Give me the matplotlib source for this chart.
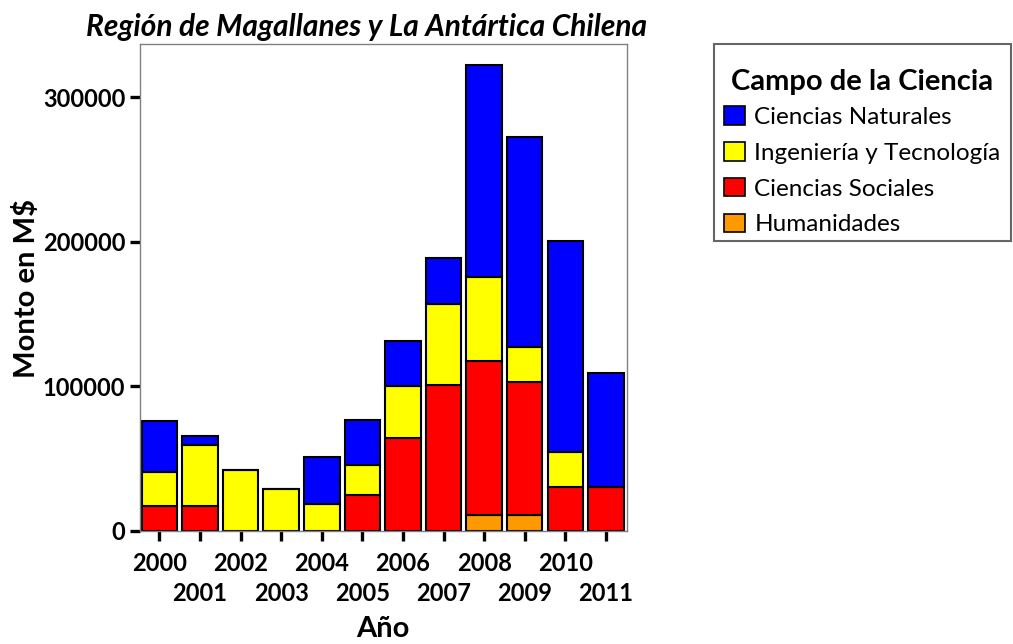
import numpy as np
import matplotlib.pyplot as plt
from matplotlib.patches import Rectangle

plt.rcParams['font.family'] = ['Lato', 'DejaVu Sans']

years = ['2000', '2001', '2002', '2003', '2004', '2005',
         '2006', '2007', '2008', '2009', '2010', '2011']
humanidades = [0, 0, 0, 0, 0, 0, 0, 0, 10600, 10600, 0, 0]
sociales = [17200, 17200, 0, 0, 0, 24800, 64100, 101100, 107100, 92200, 30300, 30300]
ingenieria = [23300, 41900, 41800, 29200, 18600, 20700, 35900, 55900, 57900, 24100, 24400, 0]
naturales = [35400, 6400, 0, 0, 32700, 31300, 31500, 31700, 146900, 145500, 145500, 79100]

series = [('Humanidades', humanidades, '#ff9900'),
          ('Ciencias Sociales', sociales, '#ff0000'),
          ('Ingeniería y Tecnología', ingenieria, '#ffff00'),
          ('Ciencias Naturales', naturales, '#0000ff')]

W, H = 1013, 644
fig = plt.figure(figsize=(W/100, H/100), dpi=100)
ax = fig.add_axes([139.5/W, 1-530.7/H, (627-139.5)/W, (530.7-44.3)/H])

x = np.arange(len(years))
bottom = np.zeros(len(years))
handles = []
for name, vals, col in series:
    vals = np.array(vals, float)
    b = ax.bar(x, vals, 0.875, bottom=bottom, color=col, edgecolor='black',
               linewidth=1.5, label=name)
    handles.append(b)
    bottom += vals

ax.set_xlim(-0.49, 11.52)
ax.set_ylim(0, 336600)
ax.set_yticks([0, 100000, 200000, 300000])
ax.set_yticklabels(['0', '100000', '200000', '300000'], fontweight='bold', fontsize=17)
# años pares arriba, impares en una segunda fila
ax.set_xticks(x[0::2])
ax.set_xticklabels(years[0::2], fontweight='bold', fontsize=17)
ax.set_xticks(x[1::2], minor=True)
ax.set_xticklabels(years[1::2], minor=True, fontweight='bold', fontsize=17)
ax.tick_params(axis='both', which='both', direction='out', length=7.2, width=2.4, color='black')
ax.tick_params(axis='x', which='major', pad=8)
ax.tick_params(axis='x', which='minor', pad=30)
ax.tick_params(axis='y', pad=3)
for s in ax.spines.values():
    s.set_color('#808080')
    s.set_linewidth(1.0)

fig.text(26/W, 1-288/H, 'Monto en M$', rotation=90, fontsize=21,
         fontweight='bold', ha='center', va='center')
fig.text(383/W, 1-629/H, 'Año', fontsize=21, fontweight='bold',
         ha='center', va='center')
fig.text(86/W, 1-27/H, 'Región de Magallanes y La Antártica Chilena',
         fontsize=21.5, fontweight='bold', fontstyle='italic', va='center', ha='left')

leg = fig.legend(handles[::-1], [s[0] for s in series][::-1],
                 loc='upper left', bbox_to_anchor=(724/W, 1-69/H),
                 title='Campo de la Ciencia', fontsize=17.5,
                 title_fontproperties={'weight': 'bold', 'size': 21},
                 frameon=False, handlelength=0.85, handleheight=0.8,
                 handletextpad=0.4, labelspacing=0.58, borderpad=0, borderaxespad=0)
leg._legend_box.sep = 8
for h in leg.legend_handles:
    h.set_edgecolor('black')
    h.set_linewidth(1.2)
fig.patches.append(Rectangle((714/W, 1-241/H), 297/W, 197/H, transform=fig.transFigure,
                             fill=False, edgecolor='#666666', linewidth=1.5))

fig.savefig('out.png', dpi=100)
